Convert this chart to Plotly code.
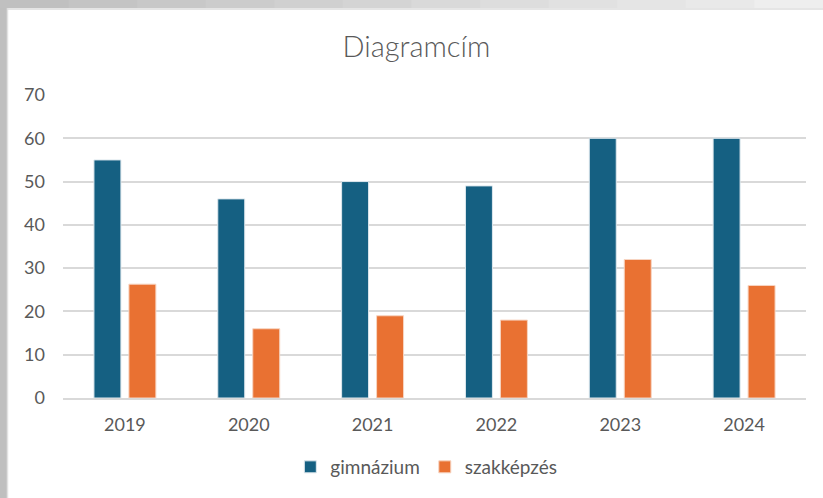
import plotly.graph_objects as go

years = ["2019", "2020", "2021", "2022", "2023", "2024"]
gimnazium = [55, 46, 50, 49, 60, 60]
szakkepzes = [26.3, 16, 19, 18, 32, 26]
y_ticks = [0, 10, 20, 30, 40, 50, 60, 70]

BLUE = "#156082"
ORANGE = "#E97132"
TXT = "#595959"
FONT = "Lato"

fig = go.Figure()
fig.add_trace(go.Bar(name="gimnázium", x=years, y=gimnazium, marker=dict(color=BLUE, line=dict(color="#dfe8ee", width=1))))
fig.add_trace(go.Bar(name="szakképzés", x=years, y=szakkepzes, marker=dict(color=ORANGE, line=dict(color="#f7d5c2", width=1))))

W, H = 823, 498
ml, mr, mt, mb = 63, 17, 95, 100
pw, ph = W - ml - mr, H - mt - mb

def px_x(p):
    return (p - ml) / pw

def px_y(p):
    return 1 - (p - mt) / ph

shapes = []
shapes.append(dict(type="rect", xref="paper", yref="paper", x0=px_x(0), x1=px_x(7), y0=px_y(H), y1=px_y(0),
                   fillcolor="#bfbfbf", line=dict(width=0), layer="below"))
n = 12
for i in range(n):
    x0 = W * i / n
    x1 = W * (i + 1) / n + 1
    t = i / (n - 1)
    c = int(192 + (238 - 192) * t)
    shapes.append(dict(type="rect", xref="paper", yref="paper", x0=px_x(x0), x1=px_x(x1), y0=px_y(8), y1=px_y(0),
                       fillcolor=f"rgb({c},{c},{c})", line=dict(width=0), layer="below"))
shapes.append(dict(type="line", xref="paper", yref="paper", x0=px_x(7.5), x1=px_x(7.5), y0=px_y(H), y1=px_y(8),
                   line=dict(color="#e2e2e2", width=1.5), layer="below"))
shapes.append(dict(type="line", xref="paper", yref="paper", x0=px_x(7), x1=px_x(W), y0=px_y(9), y1=px_y(9),
                   line=dict(color="#dcdcdc", width=1.5), layer="below"))

fig.update_layout(
    width=W, height=H,
    margin=dict(l=ml, r=mr, t=mt, b=mb, autoexpand=False),
    paper_bgcolor="white", plot_bgcolor="white",
    barmode="group", bargap=0.435, bargroupgap=0.229,
    title=dict(text="Diagramcím", x=0.506, xref="container", xanchor="center", y=1 - 47 / H, yanchor="middle",
               font=dict(family=FONT, size=29, color=TXT, weight=300)),
    font=dict(family=FONT, color=TXT, size=18),
    xaxis=dict(showgrid=False, showline=True, linecolor="#d9d9d9", linewidth=1.5,
               tickfont=dict(family=FONT, size=18, color=TXT), ticks="", ticklabelstandoff=10),
    yaxis=dict(range=[0, 70], tickvals=y_ticks, showgrid=True, gridcolor="#d9d9d9", gridwidth=1.5,
               zeroline=False, showline=False, ticks="", ticklabelstandoff=17,
               tickfont=dict(family=FONT, size=18, color=TXT)),
    legend=dict(orientation="h", x=0.518, xref="container", xanchor="center", y=1 - 467 / H, yref="container",
                yanchor="middle", font=dict(family=FONT, size=19, color=TXT), itemwidth=30,
                traceorder="normal"),
    shapes=shapes,
)

fig.write_html("out.html", config={"displayModeBar": False},
               post_script="document.body.style.margin='0';document.body.style.padding='0';")
